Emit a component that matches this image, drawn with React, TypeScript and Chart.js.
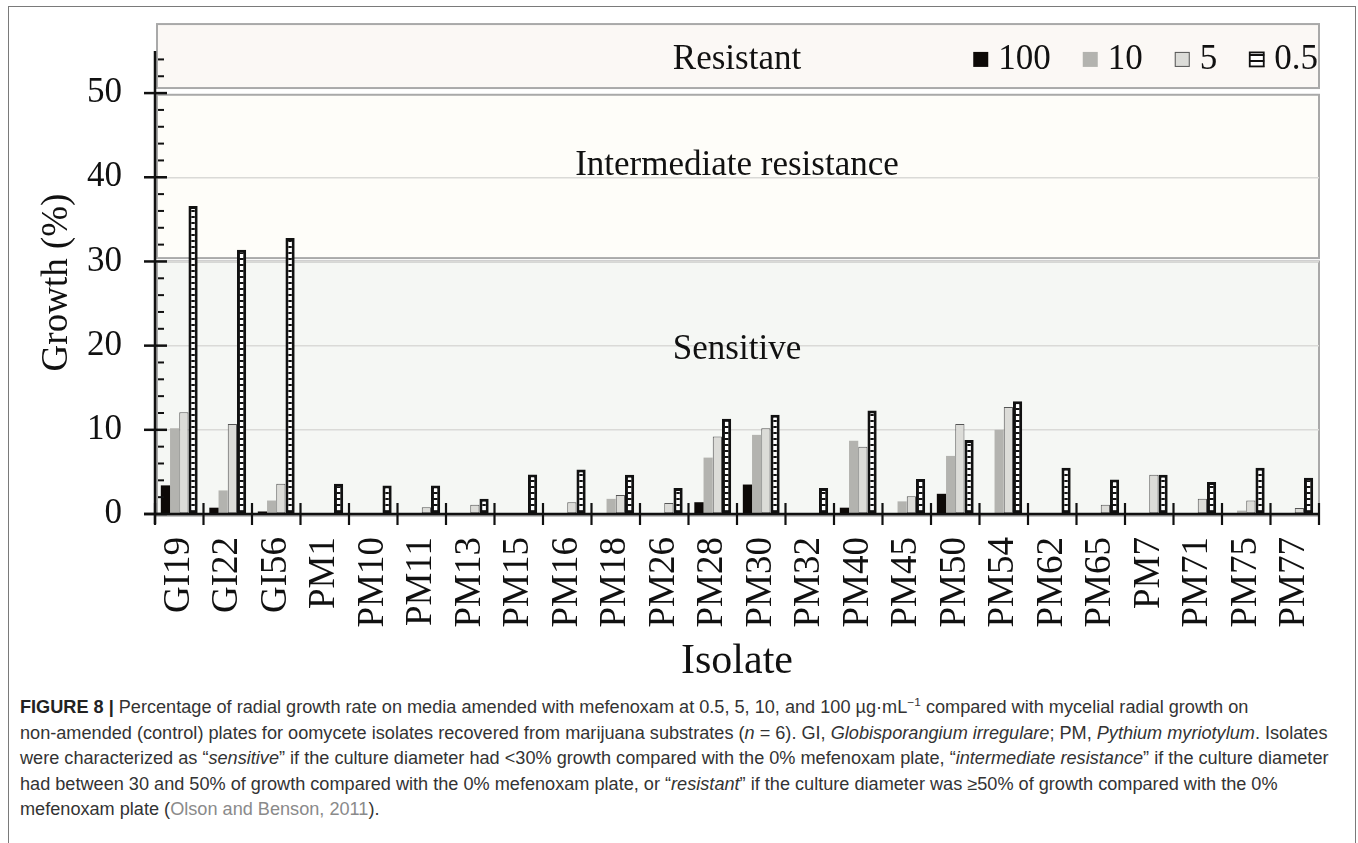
import React, { useEffect, useRef } from 'react';
import { Chart, registerables } from 'chart.js';

Chart.register(...registerables);

const categories = ['GI19', 'GI22', 'GI56', 'PM1', 'PM10', 'PM11', 'PM13', 'PM15', 'PM16', 'PM18', 'PM26', 'PM28', 'PM30', 'PM32', 'PM40', 'PM45', 'PM50', 'PM54', 'PM62', 'PM65', 'PM7', 'PM71', 'PM75', 'PM77'];
const seriesLabels = ['100', '10', '5', '0.5'];
const values100 = [3.4, 0.75, 0.3, 0, 0, 0, 0, 0, 0, 0, 0, 1.4, 3.5, 0, 0.75, 0, 2.4, 0, 0, 0, 0, 0, 0, 0];
const values10 = [10.2, 2.8, 1.6, 0, 0, 0, 0, 0, 0, 1.8, 0, 6.7, 9.4, 0, 8.7, 1.5, 6.9, 10.0, 0, 0, 0, 0, 0.4, 0];
const values5 = [12.1, 10.7, 3.6, 0, 0, 0.8, 1.1, 0, 1.4, 2.25, 1.3, 9.2, 10.2, 0, 8.0, 2.1, 10.7, 12.7, 0, 1.1, 4.65, 1.8, 1.6, 0.7];
const values05 = [36.6, 31.4, 32.8, 3.6, 3.4, 3.4, 1.8, 4.7, 5.3, 4.65, 3.1, 11.3, 11.8, 3.1, 12.3, 4.15, 8.8, 13.4, 5.5, 4.1, 4.65, 3.8, 5.5, 4.3];

const yTickValues = [0, 10, 20, 30, 40, 50];
const yMax = 55;
const bandNames = ['Resistant', 'Intermediate resistance', 'Sensitive'];
const bandFrom = [50.6, 30.4, -0.2];
const bandTo = [58.2, 49.8, 30.0];
const bandLabelAt = [54.0, 41.4, 19.5];

const SERIF = '"Liberation Serif", "Times New Roman", serif';
const bandFills = ['#fbf8f5', '#fefdf9', '#f5f7f4'];

const bandsPlugin = {
  id: 'bandsPlugin',
  beforeDraw(chart: any) {
    const { ctx, chartArea, scales } = chart;
    const y = scales.y;
    ctx.save();
    for (let i = 0; i < bandNames.length; i++) {
      const top = y.getPixelForValue(bandTo[i]);
      const bot = y.getPixelForValue(bandFrom[i]);
      const l = chartArea.left + 2;
      const r = chartArea.right;
      ctx.fillStyle = bandFills[i];
      ctx.fillRect(l, top, r - l, bot - top);
      ctx.strokeStyle = '#a9a9a9';
      ctx.lineWidth = 2;
      ctx.strokeRect(l, top, r - l, bot - top);
    }
    ctx.restore();
  },
  beforeDatasetsDraw(chart: any) {
    const { ctx, chartArea, scales } = chart;
    const y = scales.y;
    ctx.save();
    ctx.font = '35px ' + SERIF;
    ctx.fillStyle = '#111';
    ctx.textAlign = 'center';
    ctx.textBaseline = 'middle';
    const cx = (chartArea.left + chartArea.right) / 2;
    for (let i = 0; i < bandNames.length; i++) {
      ctx.fillText(bandNames[i], cx, y.getPixelForValue(bandLabelAt[i]));
    }
    // legend, in the Resistant band, right aligned
    const ly = y.getPixelForValue(bandLabelAt[0]);
    const ds = chart.data.datasets;
    let xr = chartArea.right - 1;
    const box = 15;
    ctx.textAlign = 'right';
    for (let i = ds.length - 1; i >= 0; i--) {
      const label = ds[i].label;
      const tw = ctx.measureText(label).width;
      ctx.fillStyle = '#111';
      ctx.fillText(label, xr, ly);
      xr -= tw + 10;
      const bx = xr - box;
      const by = ly - box / 2;
      ctx.fillStyle = ds[i].backgroundColor;
      ctx.fillRect(bx, by, box, box);
      if (ds[i].borderWidth) {
        ctx.strokeStyle = ds[i].borderColor;
        ctx.lineWidth = Math.min(ds[i].borderWidth, 1.8);
        ctx.strokeRect(bx + 0.5, by + 0.5, box - 1, box - 1);
      }
      xr = bx - 32;
    }
    ctx.restore();
  },
  afterDatasetsDraw(chart: any) {
    const { ctx, scales } = chart;
    const x = scales.x;
    const y = scales.y;
    const y0 = y.getPixelForValue(0);
    const axisX = x.left;
    ctx.save();
    ctx.strokeStyle = '#111';
    ctx.lineCap = 'butt';
    ctx.lineWidth = 2.5;
    ctx.beginPath();
    ctx.moveTo(axisX - 11, y0);
    ctx.lineTo(x.right + 1, y0);
    ctx.stroke();
    ctx.beginPath();
    ctx.moveTo(axisX, y.getPixelForValue(yMax));
    ctx.lineTo(axisX, y0 + 10);
    ctx.stroke();
    for (const v of yTickValues) {
      const p = y.getPixelForValue(v);
      ctx.beginPath();
      ctx.moveTo(axisX - 11, p);
      ctx.lineTo(axisX + 12, p);
      ctx.stroke();
    }
    ctx.lineWidth = 2;
    for (let v = 2; v < yMax; v += 2) {
      if (v % 10 === 0) continue;
      const p = y.getPixelForValue(v);
      ctx.beginPath();
      ctx.moveTo(axisX + 3, p);
      ctx.lineTo(axisX + 9, p);
      ctx.stroke();
    }
    ctx.lineWidth = 2.2;
    const half = (x.getPixelForValue(1) - x.getPixelForValue(0)) / 2;
    for (let i = 0; i <= categories.length; i++) {
      const px = x.getPixelForValue(i) - half;
      ctx.beginPath();
      ctx.moveTo(px, y0 - 11);
      ctx.lineTo(px, y0 + 11);
      ctx.stroke();
    }
    ctx.restore();
  },
};

export default function App() {
  const ref = useRef<HTMLCanvasElement | null>(null);

  useEffect(() => {
    const canvas = ref.current;
    if (!canvas) return;
    const ctx = canvas.getContext('2d')!;
    const tile = document.createElement('canvas');
    tile.width = 8;
    tile.height = 6;
    const tg = tile.getContext('2d')!;
    tg.fillStyle = '#ffffff';
    tg.fillRect(0, 0, 8, 6);
    tg.fillStyle = '#111111';
    tg.fillRect(0, 0, 8, 2);
    const hatch = ctx.createPattern(tile, 'repeat');

    const chart = new Chart(canvas, {
      type: 'bar',
      data: {
        labels: categories,
        datasets: [
          { label: seriesLabels[0], data: values100, backgroundColor: '#0d0907', borderWidth: 0 },
          { label: seriesLabels[1], data: values10, backgroundColor: '#b3b3af', borderWidth: 0 },
          { label: seriesLabels[2], data: values5, backgroundColor: '#dcdcd8', borderColor: '#555555', borderWidth: 1, borderSkipped: false },
          { label: seriesLabels[3], data: values05, backgroundColor: hatch as any, borderColor: '#111111', borderWidth: 3, borderSkipped: false },
        ],
      },
      options: {
        responsive: false,
        animation: false,
        layout: { padding: { top: 51, right: 39, left: 0, bottom: 0 } },
        datasets: { bar: { categoryPercentage: 0.76, barPercentage: 1.0 } },
        plugins: {
          tooltip: { enabled: false },
          legend: { display: false },
        },
        scales: {
          x: {
            afterFit: (s: any) => { s.height = 176; s.paddingLeft = 0; s.paddingRight = 0; },
            grid: { display: false, drawTicks: false },
            border: { display: false },
            ticks: {
              autoSkip: false,
              minRotation: 90,
              maxRotation: 90,
              padding: 23,
              color: '#111',
              font: { family: SERIF, size: 37 },
            },
            title: {
              display: true,
              text: 'Isolate',
              color: '#111',
              font: { family: SERIF, size: 42 },
              padding: { top: 0, bottom: 3 },
            },
          },
          y: {
            min: 0,
            max: yMax,
            afterFit: (s: any) => { s.width = 155; s.paddingTop = 0; s.paddingBottom = 0; },
            afterBuildTicks: (s: any) => { s.ticks = yTickValues.map((v) => ({ value: v })); },
            grid: {
              drawTicks: false,
              lineWidth: 1.5,
              color: (c: any) => (c.tick && c.tick.value > 0 && c.tick.value < 50 ? '#dadad7' : 'rgba(0,0,0,0)'),
            },
            border: { display: false },
            ticks: {
              padding: 33,
              color: '#111',
              font: { family: SERIF, size: 35 },
            },
            title: {
              display: true,
              text: 'Growth (%)',
              color: '#111',
              font: { family: SERIF, size: 37 },
              padding: { top: 35, bottom: 0 },
            },
          },
        },
      },
      plugins: [bandsPlugin],
    });
    return () => chart.destroy();
  }, []);

  const capLine: React.CSSProperties = {
    whiteSpace: 'nowrap',
    height: '25.5px',
    lineHeight: '25.5px',
    transform: 'scaleX(1.036)',
    transformOrigin: 'left center',
  };
  const link: React.CSSProperties = { color: '#8a8a8a' };

  return (
    <div style={{ position: 'absolute', left: 0, top: 0, width: 1358, height: 843, overflow: 'hidden', background: '#fff' }}>
      <div style={{ position: 'absolute', left: 8, top: 6, width: 1348, height: 860, boxSizing: 'border-box', border: '1.5px solid #7a7a7a' }} />
      <canvas ref={ref} width={1358} height={690} style={{ position: 'absolute', left: 0, top: 0, width: 1358, height: 690 }} />
      <div style={{ position: 'absolute', left: 20, top: 695, fontFamily: '"Liberation Sans", Arial, sans-serif', fontSize: '17.5px', color: '#333' }}>
        <div style={capLine}>
          <b style={{ color: '#222' }}>FIGURE 8 |</b> Percentage of radial growth rate on media amended with mefenoxam at 0.5, 5, 10, and 100 µg·mL<sup style={{ fontSize: '11.5px', lineHeight: 0 }}>−1</sup> compared with mycelial radial growth on
        </div>
        <div style={capLine}>
          non-amended (control) plates for oomycete isolates recovered from marijuana substrates (<i>n</i> = 6). GI, <i>Globisporangium irregulare</i>; PM, <i>Pythium myriotylum</i>. Isolates
        </div>
        <div style={capLine}>
          were characterized as “<i>sensitive</i>” if the culture diameter had &lt;30% growth compared with the 0% mefenoxam plate, “<i>intermediate resistance</i>” if the culture diameter
        </div>
        <div style={capLine}>
          had between 30 and 50% of growth compared with the 0% mefenoxam plate, or “<i>resistant</i>” if the culture diameter was ≥50% of growth compared with the 0%
        </div>
        <div style={capLine}>
          mefenoxam plate (<span style={link}>Olson and Benson, 2011</span>).
        </div>
      </div>
    </div>
  );
}
